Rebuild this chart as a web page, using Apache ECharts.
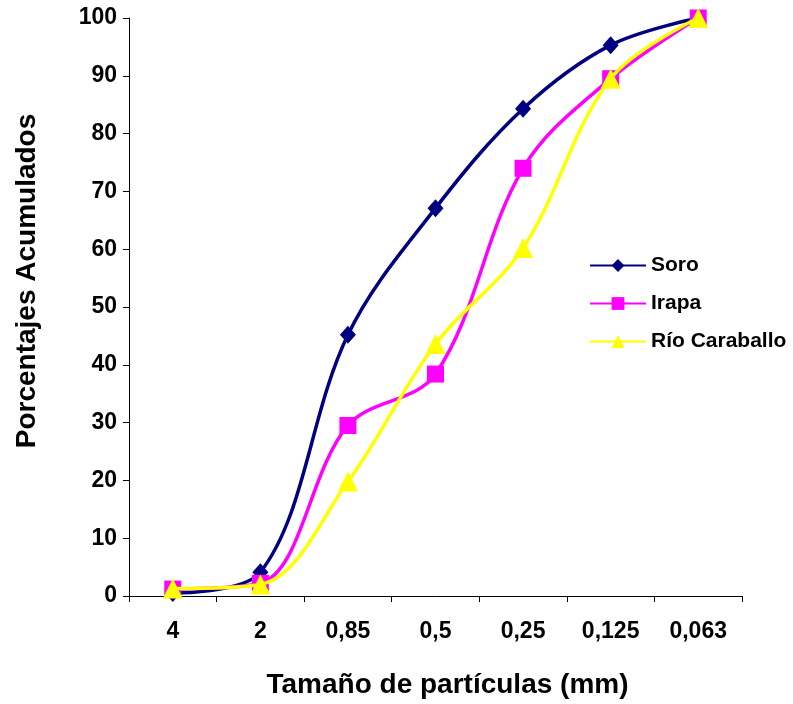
<!DOCTYPE html>
<html><head><meta charset="utf-8">
<script src="https://cdn.jsdelivr.net/npm/echarts@6/dist/echarts.min.js"></script>
<style>html,body{margin:0;padding:0;background:#fff}#c{width:793px;height:704px}</style>
</head><body><div id="c"></div>
<script>
var categories = ['4', '2', '0,85', '0,5', '0,25', '0,125', '0,063'];
var soro = [0.5, 4.1, 45.2, 67.1, 84.3, 95.3, 100];
var irapa = [1.2, 2.2, 29.5, 38.4, 74, 89.5, 100];
var rioCaraballo = [1.3, 2.0, 19.8, 43.6, 60.2, 89.5, 100];
var seriesNames = ['Soro', 'Irapa', 'Río Caraballo'];
var yTicks = [0, 10, 20, 30, 40, 50, 60, 70, 80, 90, 100];

var font = 'Liberation Sans, Arial, sans-serif';
var chart = echarts.init(document.getElementById('c'));
chart.setOption({
  animation: false,
  grid: {left: 129, right: 51, top: 18, bottom: 106},
  legend: {
    orient: 'vertical', left: 584, top: 250, itemGap: 17,
    itemWidth: 56, itemHeight: 16,
    textStyle: {fontFamily: font, fontWeight: 'bold', fontSize: 21, color: '#000'},
    data: seriesNames
  },
  xAxis: {
    type: 'category', data: categories, boundaryGap: true,
    name: 'Tamaño de partículas (mm)', nameLocation: 'middle', nameGap: 75,
    nameTextStyle: {fontFamily: font, fontWeight: 'bold', fontSize: 28, color: '#000', padding: [0, 0, 0, 24]},
    axisLine: {lineStyle: {color: '#000', width: 1}},
    axisTick: {show: true, alignWithLabel: false, length: 6, lineStyle: {color: '#000'}},
    axisLabel: {fontFamily: font, fontWeight: 'bold', fontSize: 23, color: '#000', margin: 24},
    splitLine: {show: false}
  },
  yAxis: {
    type: 'value', min: 0, max: 100, interval: 10,
    name: 'Porcentajes Acumulados', nameLocation: 'middle', nameGap: 88, nameRotate: 90,
    nameTextStyle: {fontFamily: font, fontWeight: 'bold', fontSize: 28, color: '#000', padding: [0, 0, 0, 52]},
    axisLine: {show: true, lineStyle: {color: '#000', width: 1}},
    axisTick: {show: true, length: 6, lineStyle: {color: '#000'}},
    axisLabel: {fontFamily: font, fontWeight: 'bold', fontSize: 23, color: '#000', margin: 12,
      formatter: function(v){ return yTicks.indexOf(v) >= 0 ? String(v) : ''; }},
    splitLine: {show: false}
  },
  series: [
    {name: seriesNames[0], type: 'line', data: soro, smooth: 0.35,
     symbol: 'diamond', symbolSize: [16, 18],
     lineStyle: {color: '#000080', width: 3.5}, itemStyle: {color: '#000080'}, z: 3},
    {name: seriesNames[1], type: 'line', data: irapa, smooth: 0.35,
     symbol: 'rect', symbolSize: 17,
     lineStyle: {color: '#FF00FF', width: 3.5}, itemStyle: {color: '#FF00FF'}, z: 4},
    {name: seriesNames[2], type: 'line', data: rioCaraballo, smooth: 0.35,
     symbol: 'triangle', symbolSize: [20, 20],
     lineStyle: {color: '#FFFF00', width: 3.5}, itemStyle: {color: '#FFFF00'}, z: 5}
  ]
});
</script></body></html>
